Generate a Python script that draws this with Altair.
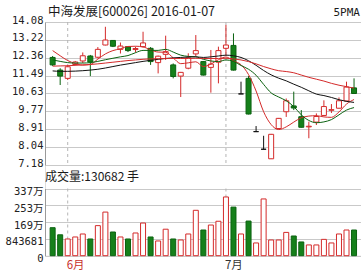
import altair as alt
import pandas as pd

# Trading days (index), first trading day of June = 2, of July = 23
day = list(range(41))
open_ = [12.37, 11.76, 11.36, 12.03, 12.20, 12.44, 12.38, 12.97, 13.19, 12.76,
         12.89, 12.75, 12.89, 12.81, 12.12, 12.52, 12.01, 11.47, 11.85, 12.54,
         12.17, 11.89, 12.14, 12.81, 12.95, 10.61, 11.36, 8.79, 7.94, 7.48,
         8.94, 9.75, 10.03, 9.51, 9.02, 9.25, 9.57, 9.82, 9.92, 10.27, 10.90]
high = [12.44, 11.85, 12.00, 12.20, 12.61, 12.49, 12.87, 13.85, 13.21, 13.09,
        12.92, 12.89, 13.61, 12.87, 12.46, 13.42, 12.08, 11.67, 12.57, 13.45,
        12.20, 12.73, 12.89, 13.94, 13.53, 11.20, 11.47, 9.06, 8.59, 8.68,
        9.45, 10.39, 10.72, 9.83, 9.27, 9.67, 10.30, 10.12, 10.44, 11.20, 11.36]
low = [11.96, 11.04, 11.28, 11.98, 12.10, 11.47, 12.33, 12.95, 12.87, 12.56,
       12.63, 12.61, 12.85, 12.01, 11.60, 12.25, 11.36, 10.46, 11.80, 12.44,
       11.50, 10.67, 11.12, 12.44, 11.74, 10.61, 9.62, 8.79, 7.94, 7.47,
       8.92, 9.50, 9.83, 8.99, 8.47, 9.11, 9.54, 9.69, 9.91, 10.24, 10.61]
close = [12.01, 11.47, 11.92, 12.15, 12.45, 12.15, 12.76, 13.21, 12.91, 12.92,
         12.70, 12.80, 13.07, 12.17, 12.43, 12.65, 11.45, 11.65, 12.35, 12.70,
         11.52, 12.05, 12.70, 12.97, 11.76, 10.61, 9.64, 8.79, 7.94, 8.66,
         9.43, 10.28, 9.93, 9.00, 9.05, 9.52, 10.00, 9.85, 10.28, 10.94, 10.63]
volume = [1406000, 1050000, 840000, 940000, 1090000, 840000, 1510000, 2190000,
          1190000, 940000, 840000, 1140000, 1640000, 940000, 740000, 1330000,
          840000, 790000, 1090000, 2280000, 1290000, 1540000, 1730000, 2950000,
          2440000, 1090000, 1740000, 640000, 2850000, 790000, 790000, 1170000,
          990000, 690000, 540000, 540000, 820000, 640000, 1090000, 1290000, 1290000]
ma5 = [12.70, 12.45, 12.22, 12.08, 12.00, 12.03, 12.29, 12.54, 12.70, 12.79,
       12.90, 12.91, 12.88, 12.73, 12.63, 12.62, 12.35, 12.07, 12.11, 12.16,
       11.93, 12.05, 12.26, 12.39, 12.20, 12.02, 11.54, 10.75, 9.75, 9.13,
       8.89, 9.02, 9.25, 9.46, 9.54, 9.56, 9.50, 9.48, 9.74, 10.12, 10.34]
ma10 = [12.25, 12.18, 12.12, 12.10, 12.10, 12.12, 12.18, 12.26, 12.33, 12.40,
        12.46, 12.60, 12.71, 12.71, 12.71, 12.76, 12.63, 12.48, 12.42, 12.40,
        12.28, 12.20, 12.17, 12.25, 12.18, 11.98, 11.80, 11.51, 11.07, 10.66,
        10.46, 10.28, 10.00, 9.60, 9.33, 9.22, 9.26, 9.37, 9.60, 9.83, 9.95]
ma20 = [11.72, 11.70, 11.70, 11.71, 11.73, 11.76, 11.80, 11.86, 11.93, 12.00,
        12.06, 12.12, 12.18, 12.23, 12.28, 12.32, 12.35, 12.37, 12.39, 12.40,
        12.37, 12.40, 12.44, 12.48, 12.45, 12.37, 12.21, 11.99, 11.74, 11.53,
        11.37, 11.24, 11.08, 10.93, 10.76, 10.60, 10.53, 10.44, 10.33, 10.25, 10.20]
ma30 = [11.95, 11.96, 11.97, 11.99, 12.01, 12.03, 12.06, 12.10, 12.14, 12.18,
        12.22, 12.25, 12.28, 12.30, 12.31, 12.32, 12.32, 12.32, 12.32, 12.33,
        12.32, 12.32, 12.32, 12.33, 12.30, 12.25, 12.17, 12.06, 11.93, 11.82,
        11.73, 11.69, 11.63, 11.52, 11.41, 11.32, 11.23, 11.12, 11.03, 10.96, 10.89]

price_ticks = [7.18, 8.04, 8.91, 9.77, 10.63, 11.49, 12.36, 13.22, 14.08]
volume_ticks = [0, 843681, 1687362, 2531043, 3374724]
month_day = [2, 23]
month_label = ["6月", "7月"]

title_text = "中海发展[600026] 2016-01-07"
ma_text = "5PMA"
volume_text = "成交量:130682 手"

RED = "#d42a2a"
GREEN = "#15801a"
GREEN_EDGE = "#0b6210"
MONO = "DejaVu Sans Mono, Noto Sans CJK SC"
CJK = "Noto Sans CJK SC"

# plot area: price pane on top, volume pane below, sharing one x scale
W = 316
PRICE_TOP, PRICE_BOTTOM = 0, 143
VOL_TOP, VOL_BOTTOM = 166.5, 233.7
H = VOL_BOTTOM

df = pd.DataFrame({"day": day, "open": open_, "high": high, "low": low,
                   "close": close, "volume": volume})
ma_df = pd.DataFrame({
    "day": day * 4,
    "value": ma5 + ma10 + ma20 + ma30,
    "line": ["MA5"] * 41 + ["MA10"] * 41 + ["MA20"] * 41 + ["MA30"] * 41,
})
months = pd.DataFrame({"day": month_day, "label": month_label})

xs = alt.X("day:Q", scale=alt.Scale(domain=[-0.35, 40.26], nice=False, zero=False), axis=None)
price_scale = alt.Scale(domain=[7.18, 14.08], range=[PRICE_BOTTOM, PRICE_TOP], nice=False, zero=False)
vol_scale = alt.Scale(domain=[0, 3374724], range=[VOL_BOTTOM, VOL_TOP], nice=False, zero=True)

status = "datum.close > datum.open ? 'up' : (datum.close < datum.open ? 'down' : 'flat')"
stroke_scale = alt.Scale(domain=["up", "down", "flat"], range=[RED, GREEN_EDGE, "#111111"])
fill_scale = alt.Scale(domain=["up", "down", "flat"], range=["#ffffff", GREEN, "#111111"])

# ---- price pane (every layer carries the same axis so it merges cleanly) ----
price_axis = alt.Axis(values=price_ticks, format=".2f", grid=True, gridColor="#c9c9c9",
                      gridWidth=1, domain=True, domainColor="#9a9a9a", ticks=False,
                      labelFont=MONO, labelFontSize=10.5, labelColor="#222222",
                      labelPadding=2, labelOffset=-2, labelOverlap=False,
                      labelBound=False, labelFlush=False, title=None, orient="left")

month_rules_top = alt.Chart(months).mark_rule(
    color="#b5b5b5", strokeDash=[3, 3], strokeWidth=1).encode(
    x=xs,
    y=alt.Y(datum=price_ticks[-1], type="quantitative", scale=price_scale, axis=price_axis),
    y2=alt.Y2(datum=price_ticks[0]),
)

ma_lines = alt.Chart(ma_df).mark_line(strokeWidth=1, interpolate="monotone").encode(
    x=xs,
    y=alt.Y("value:Q", scale=price_scale, axis=price_axis),
    color=alt.Color("line:N", legend=None,
                    scale=alt.Scale(domain=["MA5", "MA10", "MA20", "MA30"],
                                    range=["#1e1e80", "#1a1a1a", "#9c3f3a", "#3b7338"])),
    detail="line:N",
)

candles = alt.Chart(df).transform_calculate(status=status)

wicks = candles.mark_rule(strokeWidth=1).encode(
    x=xs,
    y=alt.Y("high:Q", scale=price_scale, axis=price_axis),
    y2="low:Q",
    color=alt.Color("status:N", scale=stroke_scale, legend=None),
)

bodies = candles.mark_bar(size=5, strokeWidth=1).encode(
    x=xs,
    y=alt.Y("open:Q", scale=price_scale, axis=price_axis),
    y2="close:Q",
    fill=alt.Fill("status:N", scale=fill_scale, legend=None),
    stroke=alt.Stroke("status:N", scale=stroke_scale, legend=None),
)

title_mark = alt.Chart(pd.DataFrame({"t": [title_text]})).mark_text(
    align="left", baseline="middle", font=CJK, fontSize=12.5, color="#1a1a1a", dx=3
).encode(x=alt.value(0), y=alt.value(PRICE_TOP - 10), text="t:N")

ma_label = alt.Chart(pd.DataFrame({"t": [ma_text]})).mark_text(
    align="right", baseline="middle", font=MONO, fontSize=11, color="#1a1a1a"
).encode(x=alt.value(315), y=alt.value(PRICE_TOP - 9), text="t:N")

price_pane = alt.layer(month_rules_top, wicks, bodies, ma_lines,
                       title_mark, ma_label)

# ---- volume pane ----
vol_axis = alt.Axis(values=volume_ticks, grid=True, gridColor="#c9c9c9", gridWidth=1,
                    domain=True, domainColor="#9a9a9a", ticks=False,
                    labelFont=MONO, labelFontSize=10.5, labelColor="#222222",
                    labelPadding=2, labelOffset=3, labelOverlap=False,
                    labelBound=False, labelFlush=False, title=None, orient="left",
                    labelExpr="datum.value == 0 ? '0' : (datum.value < 1000000 ? format(datum.value, 'd') : format(datum.value / 10000, '.0f') + '万')")

vol_base = alt.Chart(df).transform_calculate(
    vstatus="datum.close < datum.open ? 'down' : 'up'")

vol_bars = vol_base.mark_bar(size=5, strokeWidth=1).encode(
    x=xs,
    y=alt.Y("volume:Q", scale=vol_scale, axis=vol_axis),
    fill=alt.Fill("vstatus:N", scale=alt.Scale(domain=["up", "down"], range=["#ffffff", GREEN]), legend=None),
    stroke=alt.Stroke("vstatus:N", scale=alt.Scale(domain=["up", "down"], range=[RED, GREEN_EDGE]), legend=None),
)

month_rules_bottom = alt.Chart(months).mark_rule(
    color="#b5b5b5", strokeDash=[3, 3], strokeWidth=1).encode(
    x=xs,
    y=alt.Y(datum=volume_ticks[-1], type="quantitative", scale=vol_scale, axis=vol_axis),
    y2=alt.Y2(datum=0),
)

month_text = alt.Chart(months).mark_text(
    align="left", baseline="middle", font=CJK, fontSize=11.5, dx=-1
).encode(
    x=xs, y=alt.value(VOL_BOTTOM + 10.5), text="label:N",
    color=alt.condition(alt.datum.day == 2, alt.value("#c8322d"), alt.value("#333333")),
)

vol_title = alt.Chart(pd.DataFrame({"t": [volume_text]})).mark_text(
    align="left", baseline="middle", font=CJK, fontSize=12, color="#1a1a1a"
).encode(x=alt.value(0), y=alt.value(VOL_TOP - 11.5), text="t:N")

vol_pane = alt.layer(month_rules_bottom, vol_bars, month_text, vol_title)

chart = alt.layer(price_pane, vol_pane).resolve_scale(
    y="independent", fill="independent", stroke="independent"
).properties(
    width=W, height=H,
    autosize=alt.AutoSizeParams(type="none"),
    padding={"left": 45, "top": 22, "right": 0, "bottom": 15.3},
).configure_view(stroke=None).configure(background="#ffffff")

chart.save("out.html", embed_options={"renderer": "svg", "actions": False})
